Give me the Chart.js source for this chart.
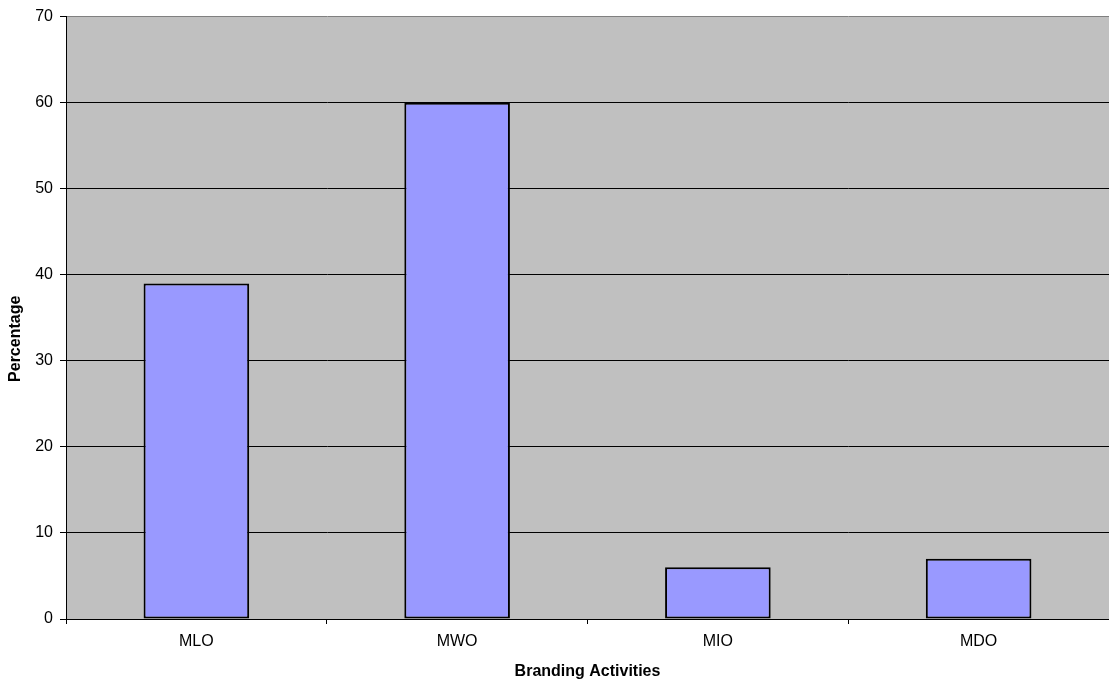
<!DOCTYPE html>
<html>
<head>
<meta charset="utf-8">
<script src="https://cdn.jsdelivr.net/npm/chart.js@4/dist/chart.umd.min.js"></script>
<style>
  html, body { margin: 0; padding: 0; background: #ffffff; }
  #c { display: block; }
</style>
</head>
<body>
<canvas id="c" width="1109" height="683"></canvas>
<script>
// Share of respondents per branding activity
const categories = ['MLO', 'MWO', 'MIO', 'MDO'];
const percentages = [39, 60, 6, 7];
const yTicks = [0, 10, 20, 30, 40, 50, 60, 70];

const xTitle = 'Branding Activities';
const yTitle = 'Percentage';

const fontFamily = '"Liberation Sans", Arial, sans-serif';
const tickFont = { family: fontFamily, size: 16 };
const titleFont = { family: fontFamily, size: 16, weight: 'bold' };

// Grey plot-area fill behind the bars
const plotBackground = {
  id: 'plotBackground',
  beforeDraw(chart) {
    const a = chart.chartArea;
    const ctx = chart.ctx;
    ctx.save();
    ctx.fillStyle = '#c0c0c0';
    ctx.fillRect(a.left, a.top, a.right - a.left, a.bottom - a.top);
    ctx.restore();
  }
};

// Vertical value-axis title, set a little below the middle of the plot
const valueAxisTitle = {
  id: 'valueAxisTitle',
  afterDraw(chart) {
    const a = chart.chartArea;
    const ctx = chart.ctx;
    ctx.save();
    ctx.translate(16, (a.top + a.bottom) / 2 + 21);
    ctx.rotate(-Math.PI / 2);
    ctx.fillStyle = '#000000';
    ctx.font = 'bold 16px ' + fontFamily;
    ctx.textAlign = 'center';
    ctx.textBaseline = 'middle';
    ctx.fillText(yTitle, 0, 0);
    ctx.restore();
  }
};

new Chart(document.getElementById('c'), {
  type: 'bar',
  data: {
    labels: categories,
    datasets: [{
      data: percentages,
      backgroundColor: '#9999ff',
      borderColor: '#000000',
      borderWidth: 2,
      borderSkipped: false,
      barPercentage: 0.405,
      categoryPercentage: 1.0
    }]
  },
  options: {
    responsive: false,
    animation: false,
    devicePixelRatio: 1,
    layout: { padding: { top: 16, right: 0, bottom: 0, left: 0 } },
    plugins: {
      legend: { display: false },
      tooltip: { enabled: false }
    },
    scales: {
      x: {
        offset: true,
        grid: {
          offset: true,
          drawOnChartArea: false,
          drawTicks: true,
          tickLength: 5,
          color: '#000000',
          lineWidth: 1
        },
        border: { color: '#000000', width: 1 },
        ticks: { color: '#000000', font: tickFont, padding: 8, maxRotation: 0 },
        title: { display: true, text: xTitle, color: '#000000', font: titleFont, padding: { top: 0, bottom: 2 } },
        afterFit(scale) { scale.height = 64; }
      },
      y: {
        min: yTicks[0],
        max: yTicks[yTicks.length - 1],
        afterBuildTicks(scale) { scale.ticks = yTicks.map(v => ({ value: v })); },
        grid: {
          color: ctx => (ctx.tick && ctx.tick.value === 70 ? '#808080' : '#000000'),
          tickColor: '#000000',
          tickLength: 6,
          lineWidth: 1
        },
        border: { color: '#000000', width: 1 },
        ticks: { color: '#000000', font: tickFont, padding: 7 },
        title: { display: false },
        afterFit(scale) { scale.width = 66; }
      }
    }
  },
  plugins: [plotBackground, valueAxisTitle]
});
</script>
</body>
</html>
